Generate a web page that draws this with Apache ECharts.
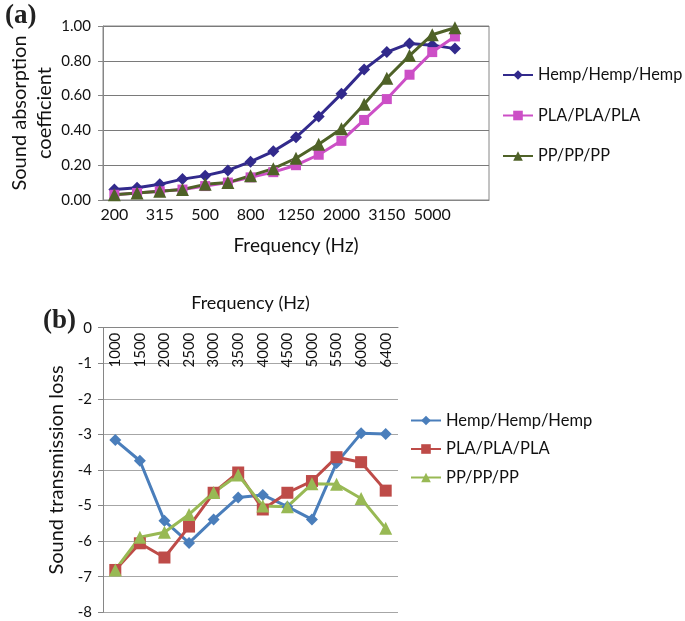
<!DOCTYPE html>
<html>
<head>
<meta charset="utf-8">
<script src="https://cdn.jsdelivr.net/npm/echarts@6/dist/echarts.min.js"></script>
<style>
  html, body { margin: 0; padding: 0; background: #fff; }
  #wrap { position: relative; width: 685px; height: 621px; }
  #chartA { position: absolute; left: 0; top: 0; width: 685px; height: 270px; }
  #chartB { position: absolute; left: 0; top: 270px; width: 685px; height: 351px; }
</style>
</head>
<body>
<div id="wrap">
  <div id="chartA"></div>
  <div id="chartB"></div>
</div>
<script>
// Panel (a): sound absorption coefficient by 1/3-octave band
const bandsA = ['200', '250', '315', '400', '500', '630', '800', '1000', '1250', '1600',
                '2000', '2500', '3150', '4000', '5000', '6300', ''];
const hempA = [0.06, 0.07, 0.09, 0.12, 0.14, 0.17, 0.22, 0.28, 0.36, 0.48, 0.61, 0.75, 0.85, 0.90, 0.89, 0.87];
const plaA  = [0.03, 0.04, 0.05, 0.06, 0.08, 0.10, 0.13, 0.16, 0.20, 0.26, 0.34, 0.46, 0.58, 0.72, 0.85, 0.94];
const ppA   = [0.03, 0.04, 0.05, 0.06, 0.09, 0.10, 0.14, 0.18, 0.24, 0.32, 0.41, 0.55, 0.70, 0.83, 0.95, 0.99];

// Panel (b): sound transmission loss
const freqB = ['1000', '1500', '2000', '2500', '3000', '3500', '4000', '4500', '5000', '5500', '6000', '6400'];
const hempB = [-3.16, -3.74, -5.43, -6.05, -5.39, -4.77, -4.70, -5.03, -5.39, -3.80, -2.97, -2.99];
const plaB  = [-6.81, -6.06, -6.46, -5.59, -4.64, -4.07, -5.11, -4.64, -4.31, -3.64, -3.78, -4.58];
const ppB   = [-6.81, -5.89, -5.75, -5.25, -4.63, -4.14, -5.01, -5.03, -4.39, -4.40, -4.80, -5.64];

const seriesNames = ['Hemp/Hemp/Hemp', 'PLA/PLA/PLA', 'PP/PP/PP'];

const FONT = 'Lato, "Open Sans", sans-serif';
const AXIS_GREY = '#868686';
const TEXT = '#111';

function lineSeries(name, data, color, symbol, size) {
  return {
    name: name,
    type: 'line',
    data: data,
    symbol: symbol,
    symbolSize: size,
    lineStyle: { color: color, width: 3 },
    itemStyle: { color: color },
    emphasis: { disabled: true },
    animation: false
  };
}

const chartA = echarts.init(document.getElementById('chartA'), null, { renderer: 'canvas' });
chartA.setOption({
  animation: false,
  textStyle: { fontFamily: FONT },
  graphic: [{
    type: 'text', left: 5, top: 3,
    style: { text: '(a)', font: 'bold 27px "Liberation Serif", "DejaVu Serif", serif', fill: '#222' }
  }],
  grid: {
    left: 103, top: 26, width: 386, height: 174,
    outerBoundsMode: 'none',
    containLabel: false,
    show: true, borderColor: AXIS_GREY, borderWidth: 1
  },
  legend: {
    data: seriesNames,
    orient: 'vertical',
    left: 502, top: 67,
    padding: 0,
    itemWidth: 30, itemHeight: 12, itemGap: 24.5,
    textStyle: { fontFamily: FONT, fontSize: 16.3, color: TEXT }
  },
  xAxis: {
    type: 'category',
    data: bandsA,
    boundaryGap: true,
    name: 'Frequency (Hz)',
    nameLocation: 'middle',
    nameGap: 36,
    nameTextStyle: { fontFamily: FONT, fontSize: 19, color: TEXT },
    axisLine: { lineStyle: { color: AXIS_GREY } },
    axisTick: { interval: 0, length: 5, lineStyle: { color: AXIS_GREY } },
    axisLabel: { interval: 1, margin: 7, fontFamily: FONT, fontSize: 16, color: TEXT }
  },
  yAxis: {
    type: 'value',
    min: 0, max: 1, interval: 0.2,
    name: 'Sound absorption\ncoefficient',
    nameLocation: 'middle',
    nameGap: 46,
    nameMoveOverlap: false,
    nameTextStyle: { fontFamily: FONT, fontSize: 20, color: TEXT, lineHeight: 25 },
    axisLine: { show: true, lineStyle: { color: AXIS_GREY } },
    axisTick: { show: true, length: 5, lineStyle: { color: AXIS_GREY } },
    splitLine: { lineStyle: { color: '#7a7a7a' } },
    axisLabel: {
      margin: 12, fontFamily: FONT, fontSize: 15, color: TEXT,
      formatter: v => v.toFixed(2)
    }
  },
  series: [
    lineSeries(seriesNames[0], hempA, '#322A8C', 'diamond', 12),
    lineSeries(seriesNames[1], plaA, '#CC4FC6', 'rect', 10),
    lineSeries(seriesNames[2], ppA, '#4F6228', 'triangle', 13)
  ]
});

const chartB = echarts.init(document.getElementById('chartB'), null, { renderer: 'canvas' });
chartB.setOption({
  animation: false,
  textStyle: { fontFamily: FONT },
  graphic: [{
    type: 'text', left: 43, top: 38,
    style: { text: '(b)', font: 'bold 27px "Liberation Serif", "DejaVu Serif", serif', fill: '#222' }
  }],
  grid: {
    left: 103, top: 57.7, width: 295, height: 284.6,
    outerBoundsMode: 'none',
    containLabel: false
  },
  legend: {
    data: seriesNames,
    orient: 'vertical',
    left: 410, top: 142,
    padding: 0,
    itemWidth: 30, itemHeight: 12, itemGap: 11.5,
    textStyle: { fontFamily: FONT, fontSize: 16.5, color: TEXT }
  },
  xAxis: {
    type: 'category',
    data: freqB,
    position: 'top',
    boundaryGap: true,
    name: 'Frequency (Hz)',
    nameLocation: 'middle',
    nameGap: 16,
    nameTextStyle: { fontFamily: FONT, fontSize: 18, color: TEXT },
    axisLine: { lineStyle: { color: AXIS_GREY } },
    axisTick: { interval: 0, inside: true, length: 4, lineStyle: { color: AXIS_GREY } },
    axisLabel: { interval: 0, inside: true, rotate: 90, margin: 5, fontFamily: FONT, fontSize: 15, color: TEXT }
  },
  yAxis: {
    type: 'value',
    min: -8, max: 0, interval: 1,
    name: 'Sound transmission loss',
    nameLocation: 'middle',
    nameGap: 36,
    nameTextStyle: { fontFamily: FONT, fontSize: 20, color: TEXT },
    axisLine: { show: true, lineStyle: { color: AXIS_GREY } },
    axisTick: { show: true, length: 5, lineStyle: { color: AXIS_GREY } },
    splitLine: { lineStyle: { color: '#a6a6a6' } },
    axisLabel: { margin: 11, fontFamily: FONT, fontSize: 15, color: TEXT }
  },
  series: [
    lineSeries(seriesNames[0], hempB, '#4A7EBB', 'diamond', 12),
    lineSeries(seriesNames[1], plaB, '#BE4B48', 'rect', 12),
    lineSeries(seriesNames[2], ppB, '#98B954', 'triangle', 13)
  ]
});
</script>
</body>
</html>
